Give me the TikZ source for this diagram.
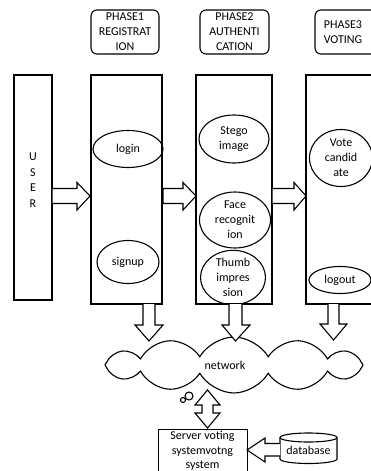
\documentclass[tikz,border=0pt]{standalone}
\usepackage{fontspec}
\setmainfont{Carlito}
\usetikzlibrary{shapes.geometric,shapes.symbols}
\begin{document}
\begin{tikzpicture}[x=1pt,y=-1pt,
  every node/.style={font=\fontsize{12}{15}\selectfont},
  lw/.style={line width=1.1pt},
  phaselabel/.style={lw, draw, rounded corners=6pt, align=center, inner sep=0pt},
  column/.style={lw, draw, inner sep=0pt},
  oval/.style={lw, draw, ellipse, align=center, inner sep=0pt},
  blockarrow/.style={lw, draw, fill=white, line join=miter}]
\useasboundingbox (0,0) rectangle (371,471);
\clip (0,0) rectangle (371,471);
% phase labels
\node[phaselabel, minimum width=68pt, minimum height=44pt] (p1lab) at (125,32) {PHASE1\\REGISTRAT\\ION};
\node[phaselabel, minimum width=69pt, minimum height=44pt] (p2lab) at (234.5,32) {PHASE2\\AUTHENTI\\CATION};
\node[phaselabel, minimum width=70pt, minimum height=44pt] (p3lab) at (350,32) {};
\node[align=center, inner sep=0pt] (p3txt) at (343,32.5) {PHASE3\\VOTING};
% columns
\node[column, minimum width=38pt, minimum height=225pt] (user) at (33,187.5) {};
\node[align=center, inner sep=0pt, font=\fontsize{12}{15.5}\selectfont] (usertxt) at (33,180) {U\\S\\E\\R};
\node[column, minimum width=71pt, minimum height=229pt] (col1) at (126.5,189.5) {};
\node[column, minimum width=76pt, minimum height=229pt] (col2) at (234,189.5) {};
\node[column, minimum width=80pt, minimum height=229pt] (col3) at (346,189.5) {};
% ovals
\node[oval, minimum width=70pt, minimum height=37pt] (login) at (128,149) {login};
\node[oval, minimum width=62pt, minimum height=43pt] (signup) at (128,262) {signup};
\node[oval, minimum width=70pt, minimum height=48pt] (stego) at (234,139) {Stego\\image};
\node[oval, minimum width=71pt, minimum height=56pt] (face) at (235,220) {Face\\recognit\\ion};
\node[oval, minimum width=65pt, minimum height=42pt] (thumb) at (233,277.5) {Thumb\\impres\\sion};
\node[oval, minimum width=63pt, minimum height=57pt] (vote) at (341,158) {Vote\\candid\\ate};
\node[oval, minimum width=62pt, minimum height=27pt] (logout) at (340,280) {logout};
% horizontal block arrows
\draw[blockarrow] (52,188.5) -- (77,188.5) -- (77,182.5) -- (90,196) -- (77,210) -- (77,203.5) -- (52,203.5) -- cycle;
\draw[blockarrow] (163,188.5) -- (183,188.5) -- (183,182.5) -- (196,196) -- (183,210) -- (183,203.5) -- (163,203.5) -- cycle;
\draw[blockarrow] (272,188.5) -- (294,188.5) -- (294,182.5) -- (306,196) -- (294,210) -- (294,203.5) -- (272,203.5) -- cycle;
% cloud
\node[lw, draw, cloud, cloud puffs=12, cloud puff arc=120, aspect=4.6,
      minimum width=258pt, minimum height=56pt, inner sep=0pt,
      label={[xshift=-9pt]center:network}] (net) at (234,365) {};
% downward block arrows
\draw[blockarrow] (143,304) -- (143,325) -- (135,325) -- (149,341) -- (163,325) -- (155,325) -- (155,304);
\draw[blockarrow] (229,304) -- (229,325) -- (222,325) -- (235.5,341) -- (250,325) -- (242,325) -- (242,304);
\draw[blockarrow] (328,304) -- (328,324) -- (320,324) -- (333.5,340) -- (347,324) -- (339,324) -- (339,304);
% thought bubbles
\draw[lw] (189,396) circle (4);
\draw[lw] (183,400) circle (2.5);
% server
\node[column, minimum width=89pt, minimum height=60pt, anchor=north west] (server) at (158,429) {};
\node[align=center, inner sep=0pt, font=\fontsize{12}{14.5}\selectfont] (servertxt) at (202.5,451) {Server voting\\systemvotng\\system};
% database cylinder
\draw[lw, fill=white] (280,437.5) -- (280,459) arc[start angle=180, end angle=360, x radius=28.5, y radius=-4.5] -- (337,437.5) arc[start angle=0, end angle=180, x radius=28.5, y radius=-4.5] -- cycle;
\draw[lw] (280,437.5) arc[start angle=180, end angle=360, x radius=28.5, y radius=-4.5];
\node[inner sep=0pt] (db) at (308.5,450) {database};
% double arrow network <-> server
\draw[blockarrow] (207.5,390) -- (195,405) -- (202,405) -- (202,413) -- (195,413) -- (207.5,428) -- (220,413) -- (213,413) -- (213,405) -- (220,405) -- cycle;
% arrow db -> server
\draw[blockarrow] (280,443.5) -- (265,443.5) -- (265,438) -- (247,450) -- (265,462) -- (265,456) -- (280,456);
\end{tikzpicture}
\end{document}
